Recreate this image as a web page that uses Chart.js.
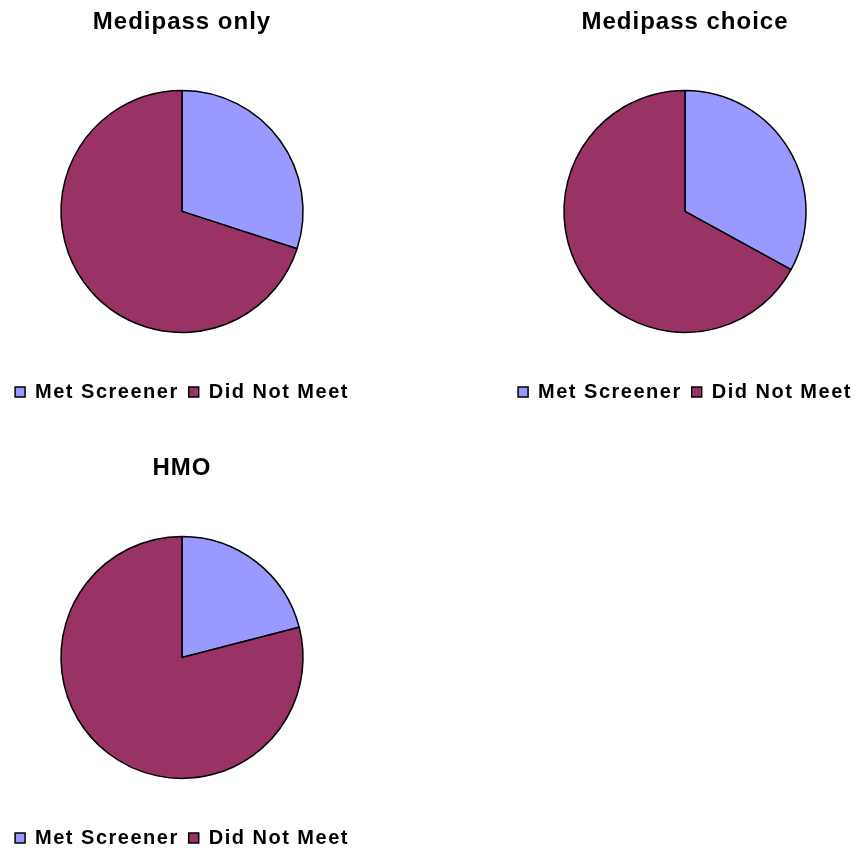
<!DOCTYPE html>
<html>
<head>
<meta charset="utf-8">
<script src="https://cdn.jsdelivr.net/npm/chart.js@4.4.1/dist/chart.umd.min.js"></script>
<style>
html, body { margin: 0; padding: 0; background: #fff; overflow: hidden; }
body { width: 860px; height: 854px; position: relative; }
.box { position: absolute; width: 360px; height: 420px; }
</style>
</head>
<body>
<div class="box" style="left:2px; top:0px"><canvas id="chart1"></canvas></div>
<div class="box" style="left:505px; top:0px"><canvas id="chart2"></canvas></div>
<div class="box" style="left:2px; top:446px"><canvas id="chart3"></canvas></div>
<script>
// Datos (porcentajes)
const categories = ['Met Screener', 'Did Not Meet'];
const medipassOnly = [30, 70];
const medipassChoice = [33, 67];
const hmo = [21, 79];
const titles = ['Medipass only', 'Medipass choice', 'HMO'];

const sliceColors = ['#9999FF', '#993366'];
const fontFamily = '"Liberation Sans", Arial, Helvetica, sans-serif';

// Espaciado de letras: la leyenda va más espaciada que el título
const letterSpacing = {
    id: 'letterSpacing',
    beforeLayout(chart) { chart.ctx.letterSpacing = '1.5px'; },
    beforeDraw(chart) {
        chart.ctx.letterSpacing = '1.5px';
        const t = chart.titleBlock;
        if (t && !t._wrapped) {
            const orig = t.draw;
            t.draw = function () {
                const c = this.ctx;
                const prev = c.letterSpacing;
                c.letterSpacing = '1px';
                orig.apply(this, arguments);
                c.letterSpacing = prev;
            };
            t._wrapped = true;
        }
    }
};

function createPie(id, title, values) {
    return new Chart(document.getElementById(id), {
        type: 'pie',
        data: {
            labels: categories,
            datasets: [{
                data: values,
                backgroundColor: sliceColors,
                borderColor: '#000',
                borderWidth: 1.5,
                radius: 121
            }]
        },
        options: {
            responsive: true,
            maintainAspectRatio: false,
            animation: false,
            layout: { padding: { bottom: 8 } },
            plugins: {
                title: {
                    display: true,
                    text: title,
                    color: '#000',
                    font: { family: fontFamily, size: 24, weight: 'bold' },
                    padding: { top: 8, bottom: 14 }
                },
                legend: {
                    display: true,
                    position: 'bottom',
                    labels: {
                        color: '#000',
                        boxWidth: 10,
                        boxHeight: 10,
                        padding: 10,
                        font: { family: fontFamily, size: 20, weight: 'bold' }
                    }
                },
                tooltip: { enabled: false }
            }
        },
        plugins: [letterSpacing]
    });
}

createPie('chart1', titles[0], medipassOnly);
createPie('chart2', titles[1], medipassChoice);
createPie('chart3', titles[2], hmo);
</script>
</body>
</html>
